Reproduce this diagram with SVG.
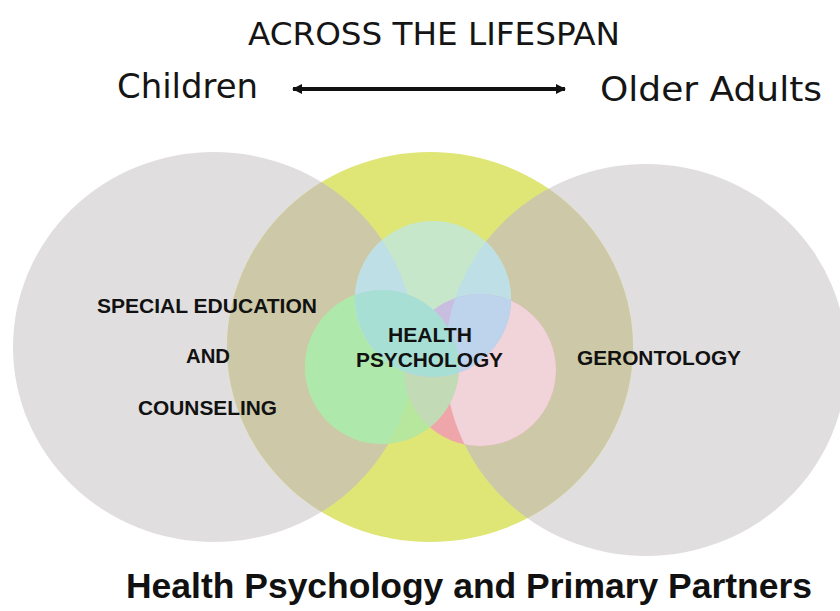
<svg xmlns="http://www.w3.org/2000/svg" width="840" height="611" viewBox="0 0 840 611">
<style>
.top{font-family:"DejaVu Sans Condensed","DejaVu Sans",sans-serif;fill:#151515}
.lbl{font-family:"Liberation Sans",Arial,sans-serif;font-weight:bold;font-size:20px;fill:#111}
.ttl{font-family:"Liberation Sans",Arial,sans-serif;font-weight:bold;font-size:35px;fill:#111}
</style>
<defs>
<clipPath id="cY"><ellipse cx="430" cy="347" rx="203" ry="195"/></clipPath>
<clipPath id="cL"><ellipse cx="214" cy="347" rx="201" ry="195"/></clipPath>
<clipPath id="cR"><ellipse cx="646" cy="360" rx="201" ry="196"/></clipPath>
<clipPath id="cB"><circle cx="433" cy="299" r="78"/></clipPath>
<clipPath id="cG"><circle cx="382" cy="367" r="77"/></clipPath>
<clipPath id="cP"><circle cx="480" cy="370" r="76"/></clipPath>
<marker id="ah" viewBox="0 0 10 10" refX="9" refY="5" markerWidth="14" markerHeight="10" markerUnits="userSpaceOnUse" orient="auto-start-reverse">
<path d="M0,0 L10,5 L0,10 Z" fill="#111"/>
</marker>
</defs>
<rect width="840" height="611" fill="#fff"/>

<g id="node-special-education">
<ellipse cx="214" cy="347" rx="201" ry="195" fill="#e1dedf"/>
</g>
<g id="node-gerontology">
<ellipse cx="646" cy="360" rx="201" ry="196" fill="#e1dedf"/>
</g>
<g id="node-primary">
<ellipse cx="430" cy="347" rx="203" ry="195" fill="#dfe676"/>
<g clip-path="url(#cY)">
<ellipse cx="214" cy="347" rx="201" ry="195" fill="#cdc9a8"/>
<ellipse cx="646" cy="360" rx="201" ry="196" fill="#cdc9a8"/>
</g>
</g>

<g id="node-health-psychology">
<circle cx="480" cy="370" r="76" fill="#eea6aa"/>
<g clip-path="url(#cP)">
<ellipse cx="646" cy="360" rx="201" ry="196" fill="#f1d3da"/>
<ellipse cx="214" cy="347" rx="201" ry="195" fill="#f1d3da"/>
</g>
<circle cx="382" cy="367" r="77" fill="#b6e79c"/>
<g clip-path="url(#cG)">
<ellipse cx="214" cy="347" rx="201" ry="195" fill="#afe8ab"/>
<circle cx="480" cy="370" r="76" fill="#c2dab6"/>
</g>
<circle cx="433" cy="299" r="78" fill="#c7e7ca"/>
<g clip-path="url(#cB)">
<ellipse cx="214" cy="347" rx="201" ry="195" fill="#bddfe5"/>
<ellipse cx="646" cy="360" rx="201" ry="196" fill="#bddfe5"/>
<circle cx="480" cy="370" r="76" fill="#c9bde0"/>
<g clip-path="url(#cP)">
<ellipse cx="646" cy="360" rx="201" ry="196" fill="#bed3ec"/>
</g>
<circle cx="382" cy="367" r="77" fill="#a8dfd5"/>
</g>
</g>

<g id="labels">
<text class="lbl" x="97" y="313" textLength="220" lengthAdjust="spacingAndGlyphs">SPECIAL EDUCATION</text>
<text class="lbl" x="186" y="363" textLength="44" lengthAdjust="spacingAndGlyphs">AND</text>
<text class="lbl" x="138" y="415" textLength="139" lengthAdjust="spacingAndGlyphs">COUNSELING</text>
<text class="lbl" x="388" y="342" textLength="84" lengthAdjust="spacingAndGlyphs">HEALTH</text>
<text class="lbl" x="356" y="367" textLength="147" lengthAdjust="spacingAndGlyphs">PSYCHOLOGY</text>
<text class="lbl" x="577" y="365" textLength="164" lengthAdjust="spacingAndGlyphs">GERONTOLOGY</text>
</g>

<g id="header">
<text class="top" x="248" y="45" font-size="32" textLength="372" lengthAdjust="spacingAndGlyphs">ACROSS THE LIFESPAN</text>
<text class="top" x="117" y="98" font-size="34" textLength="141" lengthAdjust="spacingAndGlyphs">Children</text>
<text class="top" x="600" y="101" font-size="34" textLength="222" lengthAdjust="spacingAndGlyphs">Older Adults</text>
</g>

<g id="connectors">
<line x1="293" y1="89" x2="565" y2="89" stroke="#111" stroke-width="4" marker-start="url(#ah)" marker-end="url(#ah)"/>
</g>

<g id="title">
<text class="ttl" x="126" y="598" textLength="686" lengthAdjust="spacingAndGlyphs">Health Psychology and Primary Partners</text>
</g>
</svg>
